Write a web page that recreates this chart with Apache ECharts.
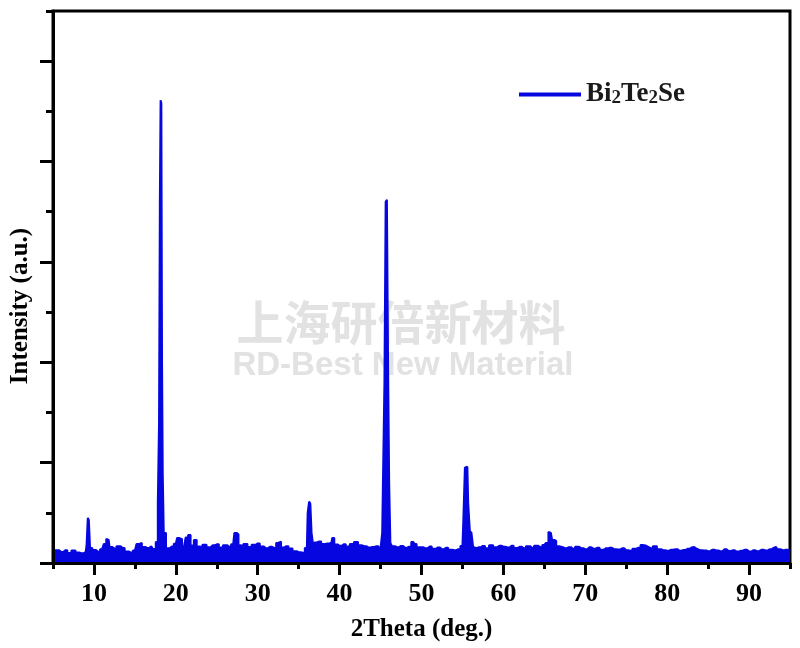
<!DOCTYPE html>
<html><head><meta charset="utf-8">
<script src="https://cdn.jsdelivr.net/npm/echarts@6/dist/echarts.min.js"></script>
<style>html,body{margin:0;padding:0;background:#fff}#c{width:800px;height:648px}</style>
</head><body><div id="c"></div>
<script>
const twoTheta = [5.0,5.5,6.0,6.5,7.0,7.5,8.0,8.5,9.0,9.2,9.3,9.45,9.6,10.0,10.5,11.0,11.4,11.6,11.8,12.0,12.5,13.0,13.5,14.0,14.5,15.0,15.4,15.7,16.0,16.5,17.0,17.4,17.7,17.9,18.0,18.1,18.18,18.28,18.35,18.45,18.6,19.0,19.5,20.0,20.3,20.5,21.0,21.4,21.6,22.0,22.4,22.7,23.0,23.5,24.0,24.5,25.0,25.5,26.0,26.5,27.0,27.3,27.5,27.8,28.0,28.5,29.0,29.5,30.0,30.5,31.0,31.5,32.0,32.5,32.7,33.0,33.5,34.0,34.5,35.0,35.5,36.0,36.2,36.35,36.5,36.65,36.9,37.0,37.5,38.0,38.5,39.0,39.2,39.5,40.0,40.5,41.0,41.5,42.0,42.5,43.0,43.5,44.0,44.5,45.0,45.4,45.55,45.7,45.85,46.0,46.1,46.3,46.5,47.0,47.5,48.0,48.5,49.0,49.3,49.5,50.0,50.5,51.0,51.5,52.0,52.5,53.0,53.5,54.0,54.5,55.0,55.2,55.4,55.6,55.8,56.0,56.2,56.4,56.5,57.0,57.5,58.0,58.5,59.0,59.5,60.0,60.5,61.0,61.5,62.0,62.5,63.0,63.5,64.0,64.5,65.0,65.4,65.6,65.8,66.1,66.3,66.6,67.0,67.5,68.0,68.5,69.0,69.5,70.0,70.5,71.0,71.5,72.0,72.5,73.0,73.5,74.0,74.5,75.0,75.5,76.0,76.5,77.0,77.2,77.5,78.0,78.5,79.0,79.5,80.0,80.5,81.0,81.5,82.0,82.5,83.0,83.3,83.6,84.0,84.5,85.0,85.5,86.0,86.5,87.0,87.5,88.0,88.5,89.0,89.5,90.0,90.5,91.0,91.5,92.0,92.5,93.0,93.3,93.6,94.0,94.5,95.0];
const intensity = [105,128,110,126,100,124,104,96,112,180,450,430,150,130,112,138,190,240,230,160,145,168,150,115,104,125,190,200,160,150,166,140,210,600,1400,3600,4610,4580,2000,900,300,148,165,192,250,238,165,255,280,175,230,165,160,182,158,176,186,155,178,162,186,300,285,178,168,190,160,182,195,165,148,162,150,200,212,155,168,145,118,108,102,150,500,612,590,300,175,205,215,190,195,202,250,185,172,186,165,190,210,176,168,155,160,168,148,300,1800,3600,3620,1900,800,200,168,158,170,152,162,210,190,158,156,146,164,142,155,138,152,132,128,138,170,400,950,960,600,320,300,160,148,158,170,146,178,156,172,162,154,172,150,162,146,168,152,172,158,180,200,310,300,230,220,168,158,148,158,142,162,148,138,156,142,152,132,146,152,138,134,146,128,122,142,152,180,175,158,148,168,138,128,122,132,138,122,130,142,155,160,142,128,124,118,132,124,118,136,120,126,114,122,132,114,126,118,132,124,136,150,160,138,124,132,120];
const xTickLabels = [10,20,30,40,50,60,70,80,90];
const yMajorTicks = [0,1000,2000,3000,4000,5000];
const seriesName = 'Bi2Te2Se';
const watermarkCN = '上海研倍新材料';
const watermarkEN = 'RD-Best New Material';

const blue = '#0606e0';
const serif = '"Liberation Serif","Times New Roman",serif';
const chart = echarts.init(document.getElementById('c'), null, {renderer:'canvas'});
const tickStyle = {color:'#000', width:3};
const nameStyle = {fontFamily:serif, fontWeight:'bold', fontSize:25, color:'#000'};
chart.setOption({
  animation:false,
  backgroundColor:'#fff',
  grid:{left:50,right:10,top:11,bottom:85,show:true,borderColor:'#000',borderWidth:3,backgroundColor:'transparent'},
  legend:{
    left:514, top:76, icon:'rect', itemWidth:62, itemHeight:4,
    data:[seriesName],
    formatter:function(){return 'Bi{s|2}Te{s|2}Se';},
    textStyle:{fontFamily:serif,fontWeight:'bold',fontSize:27,color:'#1a1a1a',
      rich:{s:{fontFamily:serif,fontWeight:'bold',fontSize:19,color:'#1a1a1a',verticalAlign:'bottom'}}}
  },
  graphic:[
    {type:'text', x:401, y:322, z:0, style:{text:watermarkCN, fill:'#e2e2e2', font:'bold 47px "Noto Sans CJK SC"', align:'center', verticalAlign:'middle', textAlign:'center', textVerticalAlign:'middle'}},
    {type:'text', x:403, y:366, z:0, style:{text:watermarkEN, fill:'#e2e2e2', font:'bold 33px "Liberation Sans", Arial, sans-serif', align:'center', verticalAlign:'middle', textAlign:'center', textVerticalAlign:'middle'}}
  ],
  xAxis:[
    {type:'value', min:5, max:95, interval:5, position:'bottom', z:10,
      axisLine:{lineStyle:tickStyle},
      axisTick:{length:6, lineStyle:tickStyle},
      axisLabel:{formatter:function(v){return xTickLabels.indexOf(v)>=0?String(v):'';},
        fontFamily:serif, fontWeight:'bold', fontSize:26, color:'#000', margin:18},
      splitLine:{show:false},
      name:'2Theta (deg.)', nameLocation:'middle', nameGap:54, nameTextStyle:nameStyle},
    {type:'value', min:5, max:95, interval:5, position:'bottom', z:11,
      axisLine:{show:false}, splitLine:{show:false}, axisLabel:{show:false},
      axisTick:{show:true, length:12, lineStyle:tickStyle, customValues:xTickLabels}}
  ],
  yAxis:[
    {type:'value', min:0, max:5500, interval:500, position:'left', z:10,
      axisLine:{lineStyle:tickStyle},
      axisTick:{length:7, lineStyle:tickStyle},
      axisLabel:{show:false}, splitLine:{show:false},
      name:'Intensity (a.u.)', nameLocation:'middle', nameGap:20,
      nameTextStyle:Object.assign({padding:[0,38,0,0]}, nameStyle)},
    {type:'value', min:0, max:5500, interval:500, position:'left', z:11,
      axisLine:{show:false}, splitLine:{show:false}, axisLabel:{show:false},
      axisTick:{show:true, length:13, lineStyle:tickStyle, customValues:yMajorTicks}}
  ],
  series:[{
    type:'line', name:seriesName, xAxisIndex:0, yAxisIndex:0, z:3,
    data: twoTheta.map(function(x,i){return [x,intensity[i]];}),
    symbol:'none', step:'middle',
    lineStyle:{color:blue, width:2}, itemStyle:{color:blue},
    areaStyle:{color:blue, opacity:1}
  }]
});
</script>
</body></html>
